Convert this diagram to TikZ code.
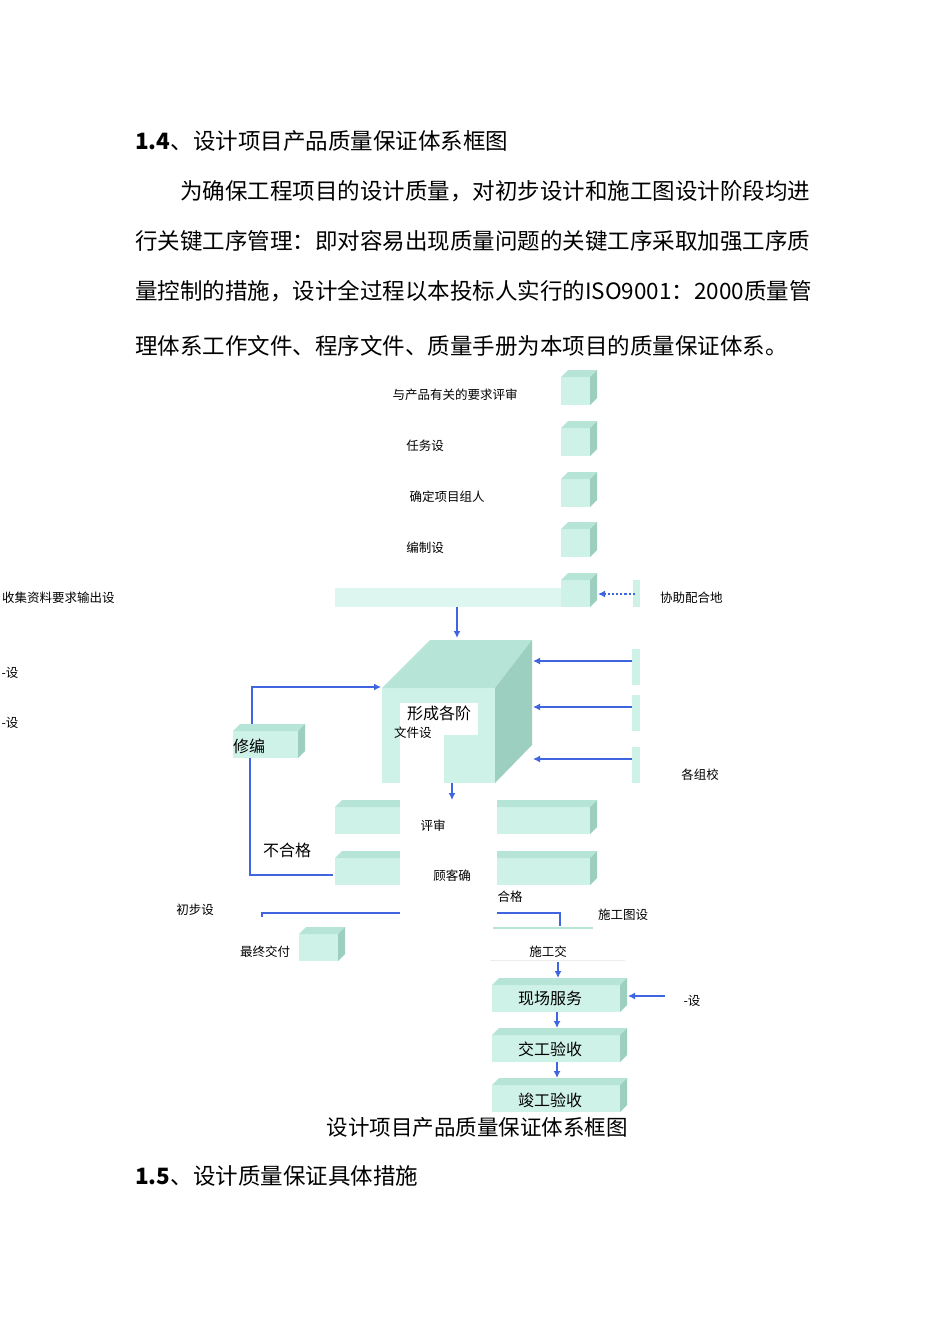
\documentclass[tikz,border=0pt]{standalone}
\usepackage{fontspec}
\setmainfont{Liberation Serif}
\newfontfamily\cjk{Noto Sans CJK SC}
\definecolor{qfront}{HTML}{CFF2E8}
\definecolor{qtop}{HTML}{B6E4D7}
\definecolor{qside}{HTML}{9DCFC1}
\definecolor{qblue}{HTML}{3F66E0}
\newcommand\qbox[5]{% x y w h d  (y top of front, downward)
  \fill[qfront] (#1,#2) rectangle ++(#3,#4);
  \fill[qtop] (#1,#2) -- ++(#5,-#5) -- ++(#3,0) -- ++(-#5,#5) -- cycle;
  \fill[qside] (#1+#3,#2) -- ++(#5,-#5) -- ++(0,#4) -- ++(-#5,#5) -- cycle;}
\begin{document}
\begin{tikzpicture}[x=1pt,y=-1pt,
  body/.style={font=\cjk\fontsize{22.5}{26}\selectfont,anchor=west,inner sep=0},
  small/.style={font=\cjk\fontsize{12.5}{14}\selectfont,inner sep=0},
  lab/.style={font=\cjk\fontsize{16}{18}\selectfont,inner sep=0},
  arr/.style={qblue,line width=2.2pt,-{Latex[length=7pt,width=7pt]}},
  ln/.style={qblue,line width=2.2pt}]
\usetikzlibrary{arrows.meta}
\useasboundingbox (0,0) rectangle (950,1344);
\fill[white] (0,0) rectangle (950,1344);
% text
\node[body] (h1) at (135,141) {\textbf{1.4}、设计项目产品质量保证体系框图};
\node[body] (p1) at (180,191) {为确保工程项目的设计质量，对初步设计和施工图设计阶段均进};
\node[body] (p2) at (135,241) {行关键工序管理：即对容易出现质量问题的关键工序采取加强工序质};
\node[body] (p3) at (135,291) {量控制的措施，设计全过程以本投标人实行的ISO9001：2000质量管};
\node[body] (p4) at (135,346) {理体系工作文件、程序文件、质量手册为本项目的质量保证体系。};
% small top cubes
\qbox{561}{377}{29}{28}{7}
\qbox{561}{428}{29}{28}{7}
\qbox{561}{479}{29}{28}{7}
\qbox{561}{529}{29}{28}{7}
\fill[qfront!70] (335,588) rectangle (565,607);
\qbox{561}{580}{29}{27}{7}
\fill[qfront] (633,580) rectangle (640,607);
\node[small] (t1) at (455,395) {与产品有关的要求评审};
\node[small] (t2) at (425,446) {任务设};
\node[small] (t3) at (447,497) {确定项目组人};
\node[small] (t4) at (425,548) {编制设};
\node[small,anchor=west] (t5) at (2,598) {收集资料要求输出设};
\node[small,anchor=west] (t6) at (660,598) {协助配合地};
\coordinate (d1) at (635,594);
\coordinate (d2) at (598,594);
\draw[qblue,line width=2.2pt,dotted,-{Latex[length=7pt,width=7pt]}] (d1) -- (d2);
\coordinate (a1) at (457,607);
\coordinate (a2) at (457,638);
\draw[arr] (a1) -- (a2);
% big cube
\fill[qfront] (382,688) rectangle (495,783);
\fill[qtop] (382,688) -- (430,640) -- (532,640) -- (495,688) -- cycle;
\fill[qside] (495,688) -- (532,640) -- (532,745) -- (495,783) -- cycle;
\fill[white] (400,735) rectangle (444,785);
\fill[white] (400,703) rectangle (478,735);
\node[lab,anchor=west] (big) at (407,713) {形成各阶};
\node[small,anchor=west] (big2) at (394,733) {文件设};
\foreach \yy in {661,707,759}{
  \fill[qfront] (632,\yy-12) rectangle (640,\yy+24);
  \draw[arr] (632,\yy) -- (533,\yy);}
\node[small] (t7) at (700,775) {各组校};
\node[small] (t8) at (10,673) {-设};
\node[small] (t9) at (10,723) {-设};
% xiubian
\qbox{233}{731}{65}{27}{7}
\node[lab,anchor=west] (xb) at (233,746) {修编};
\coordinate (x1) at (252,724);
\coordinate (x2) at (381,687);
\draw[arr] (x1) |- (x2);
\coordinate (x3) at (250,758);
\coordinate (x4) at (333,875);
\draw[ln] (x3) |- (x4);
\node[lab] (bh) at (287,850) {不合格};
\draw[arr] (452,783) -- (452,800);
% review boxes
\qbox{335}{807}{255}{27}{7}
\qbox{335}{858}{255}{27}{7}
\fill[white] (400,800) rectangle (497,905);
\node[small] (ps) at (433,826) {评审};
\node[small] (gk) at (452,876) {顾客确};
\node[small] (hg) at (510,897) {合格};
\draw[ln] (262,917) -- (262,913) -- (400,913);
\draw[ln] (497,913) -- (560,913) -- (560,926);
\node[small] (cb) at (195,910) {初步设};
\node[small] (sg) at (623,915) {施工图设};
\draw[qtop,line width=2pt] (493,928) -- (593,928);
\qbox{299}{934}{39}{27}{7}
\node[small] (zz) at (265,952) {最终交付};
\node[small] (sj) at (548,952) {施工交};
\draw[gray!15] (490,960) -- (625,960);
% bottom chain
\qbox{492}{985}{128}{27}{7}
\qbox{492}{1035}{128}{27}{7}
\qbox{492}{1085}{128}{27}{7}
\node[lab] (b1) at (550,998) {现场服务};
\node[lab] (b2) at (550,1049) {交工验收};
\node[lab] (b3) at (550,1100) {竣工验收};
\draw[arr] (558,962) -- (558,978);
\draw[arr] (557,1012) -- (557,1028);
\draw[arr] (557,1062) -- (557,1078);
\coordinate (r1) at (665,996);
\coordinate (r2) at (628,996);
\draw[arr] (r1) -- (r2);
\node[small] (t10) at (692,1001) {-设};
\node[font=\cjk\fontsize{21.5}{24}\selectfont,inner sep=0] (cap) at (477,1127) {设计项目产品质量保证体系框图};
\node[body] (h2) at (135,1176) {\textbf{1.5}、设计质量保证具体措施};
\end{tikzpicture}
\end{document}
